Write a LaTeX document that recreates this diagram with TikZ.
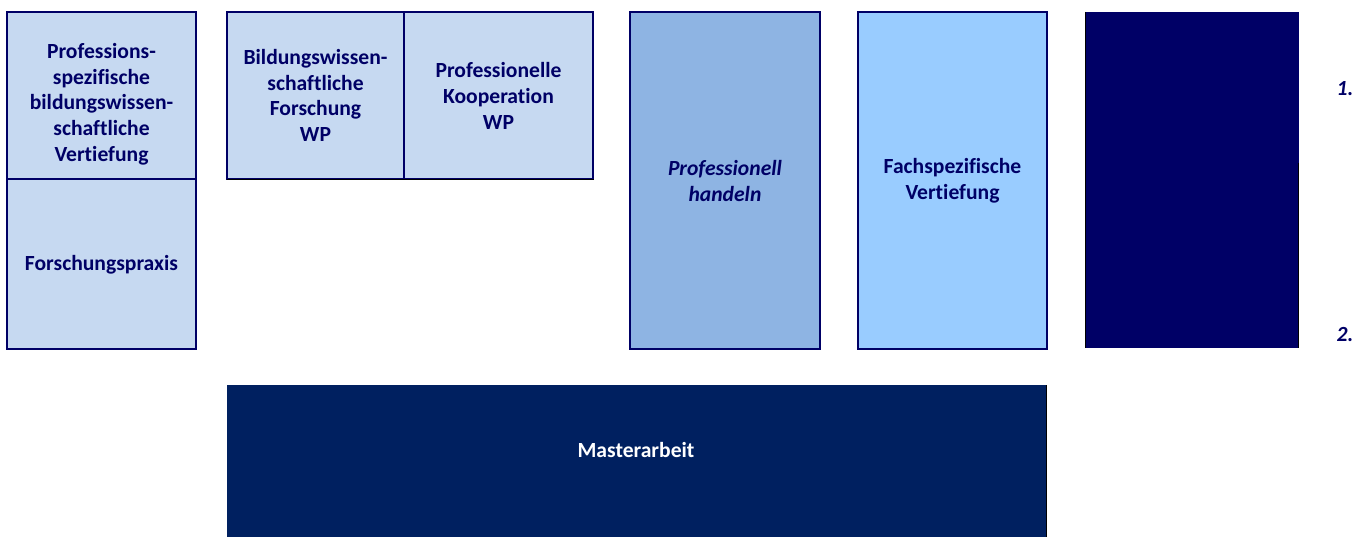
\documentclass[tikz,border=0pt]{standalone}
\usepackage{fontspec}
\setmainfont{Carlito}[Ligatures=NoCommon]
\definecolor{navy}{HTML}{000066}
\definecolor{lightblue}{HTML}{C6D9F1}
\definecolor{midblue}{HTML}{8EB4E3}
\definecolor{skyblue}{HTML}{99CCFF}
\definecolor{darknavy}{HTML}{002060}
\begin{document}
\begin{tikzpicture}[x=1pt,y=-1pt,
  box/.style={draw=navy,line width=2pt},
  lbl/.style={text=navy,font=\fontsize{21.6}{25.7}\selectfont\bfseries,align=center,inner sep=0pt},
  ilbl/.style={lbl,font=\fontsize{21.6}{25.7}\selectfont\bfseries\itshape}]
\useasboundingbox (0,0) rectangle (1368,537);
% left box
\path[box,fill=lightblue] (7,12) rectangle (196,179) coordinate (lt);
\path[box,fill=lightblue] (7,179) rectangle (196,349) coordinate (lb);
\node[lbl] (t1) at (101.5,104) {Professions-\\spezifische\\bildungswissen-\\schaftliche\\Vertiefung};
\node[lbl] (t2) at (101.5,265) {Forschungspraxis};
% middle box
\path[box,fill=lightblue] (227,12) rectangle (404,179);
\path[box,fill=lightblue] (404,12) rectangle (593,179);
\draw[black,line width=1pt] (227,180) -- (594,180);
\node[lbl] (t3) at (315.5,95.5) {Bildungswissen-\\schaftliche\\Forschung\\WP};
\node[lbl] (t4) at (498.5,96) {Professionelle\\Kooperation\\WP};
% Professionell handeln
\path[box,fill=midblue] (630,12) rectangle (820,349);
\node[ilbl] (t5) at (725,181) {Professionell\\handeln};
% Fachspezifische
\path[box,fill=skyblue] (858,12) rectangle (1047,349);
\node[lbl] (t6) at (952.5,181) {Fachspezifische\\Vertiefung};
% dark box
\fill[navy] (1085,12) rectangle (1299,348);
\draw[black,line width=1.2pt] (1085.5,12) -- (1085.5,348);
\draw[black,line width=1.2pt] (1298.5,163) -- (1298.5,348);
\node[ilbl] (n1) at (1345,89) {1.};
\node[ilbl] (n2) at (1345,334) {2.};
% Masterarbeit
\fill[darknavy] (227,385) rectangle (1047,537);
\draw[black,line width=1.2pt] (1046.5,385) -- (1046.5,537);
\node[lbl,text=white] (t7) at (636,450) {Masterarbeit};
\end{tikzpicture}
\end{document}
